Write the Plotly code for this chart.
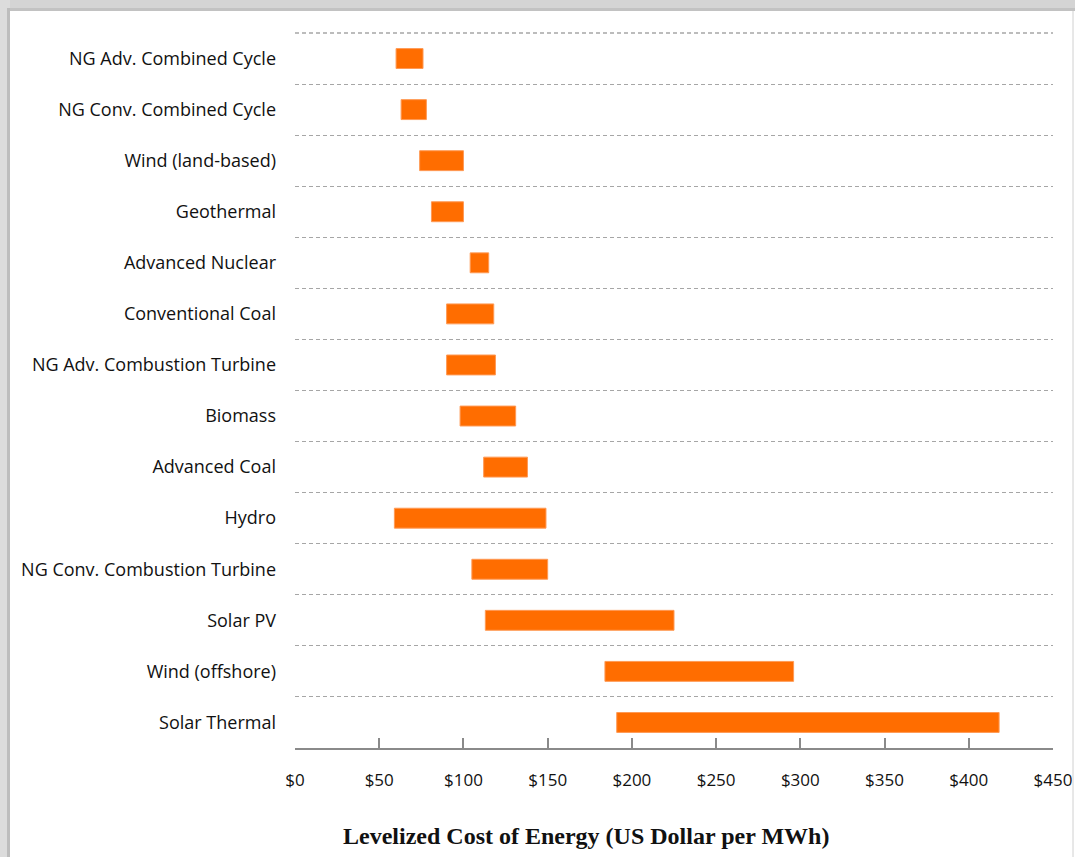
import plotly.graph_objects as go

categories = [
    "NG Adv. Combined Cycle",
    "NG Conv. Combined Cycle",
    "Wind (land-based)",
    "Geothermal",
    "Advanced Nuclear",
    "Conventional Coal",
    "NG Adv. Combustion Turbine",
    "Biomass",
    "Advanced Coal",
    "Hydro",
    "NG Conv. Combustion Turbine",
    "Solar PV",
    "Wind (offshore)",
    "Solar Thermal",
]
low_cost = [60, 63, 74, 81, 104, 90, 90, 98, 112, 59, 105, 113, 184, 191]
high_cost = [76, 78, 100, 100, 115, 118, 119, 131, 138, 149, 150, 225, 296, 418]
x_ticks = [0, 50, 100, 150, 200, 250, 300, 350, 400, 450]
x_tick_labels = ["$0", "$50", "$100", "$150", "$200", "$250", "$300", "$350", "$400", "$450"]

span = [h - l for h, l in zip(high_cost, low_cost)]

fig = go.Figure()
fig.add_trace(go.Bar(
    y=categories,
    x=span,
    base=low_cost,
    orientation="h",
    width=0.39,
    marker=dict(color="#FF6D00", line=dict(color="#FF9A55", width=1)),
    showlegend=False,
))

W, H = 1075, 857
L, R, T, B = 295, 22, 33, 109
pw = W - L - R
ph = H - T - B

def px(xp):
    return (xp - L) / pw

def py(yp):
    return (H - B - yp) / ph

shapes = [
    # top dashed boundary line
    dict(type="line", xref="paper", yref="paper", x0=0, x1=1, y0=1, y1=1,
         line=dict(color="#a6a6a6", width=1.3, dash="4px,3px"), layer="below"),
    # frame shadow
    dict(type="rect", xref="paper", yref="paper", x0=px(0), x1=px(W), y0=py(0), y1=py(11),
         fillcolor="#d4d4d4", line=dict(width=0), layer="above"),
    dict(type="rect", xref="paper", yref="paper", x0=px(8), x1=px(W), y0=py(8), y1=py(11),
         fillcolor="#c2c2c2", line=dict(width=0), layer="above"),
    dict(type="rect", xref="paper", yref="paper", x0=px(0), x1=px(10), y0=py(0), y1=py(H),
         fillcolor="#dcdcdc", line=dict(width=0), layer="above"),
    dict(type="rect", xref="paper", yref="paper", x0=px(7), x1=px(10), y0=py(8), y1=py(H),
         fillcolor="#bdbdbd", line=dict(width=0), layer="above"),
    dict(type="line", xref="paper", yref="paper", x0=px(1073), x1=px(1073), y0=py(11), y1=py(H),
         line=dict(color="#d0d0d0", width=1), layer="above"),
]

n = len(categories)

fig.update_layout(
    width=W, height=H,
    margin=dict(l=L, r=R, t=T, b=B, pad=0, autoexpand=False),
    paper_bgcolor="white",
    plot_bgcolor="white",
    font=dict(family="Open Sans, Lato, sans-serif", size=17, color="#111111"),
    shapes=shapes,
    xaxis=dict(
        range=[0, 450],
        tickvals=x_ticks,
        ticktext=x_tick_labels,
        showgrid=False,
        zeroline=False,
        showline=True,
        linecolor="#8a8a8a",
        linewidth=1.5,
        ticks="inside",
        ticklen=10,
        tickwidth=1.5,
        tickcolor="#8a8a8a",
        ticklabelstandoff=16,
        tickfont=dict(size=17),
        automargin=False,
    ),
    yaxis=dict(
        type="category",
        range=[n - 0.5, -0.5],
        tickson="boundaries",
        showgrid=True,
        gridcolor="#a6a6a6",
        gridwidth=1.3,
        griddash="4px,3px",
        zeroline=False,
        showline=False,
        ticks="",
        ticklabelstandoff=18,
        tickfont=dict(size=18),
        automargin=False,
    ),
    annotations=[dict(
        text="<b>Levelized Cost of Energy (US Dollar per MWh)</b>",
        xref="paper", yref="paper",
        x=(586 - L) / pw, y=py(836),
        xanchor="center", yanchor="middle",
        showarrow=False,
        font=dict(family="Liberation Serif, Times New Roman, serif", size=24, color="#111111"),
    )],
)

fig.write_html("out.html")
